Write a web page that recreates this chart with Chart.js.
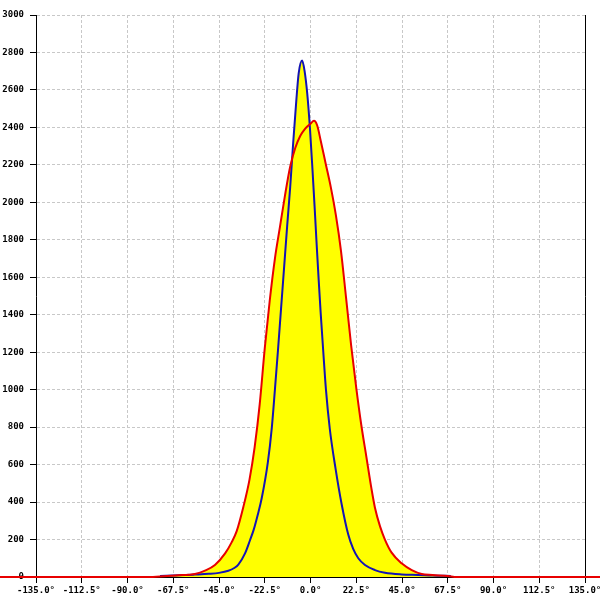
<!DOCTYPE html>
<html>
<head>
<meta charset="utf-8">
<script src="https://cdn.jsdelivr.net/npm/chart.js@4"></script>
<style>
  body { margin: 0; background: #fff; }
  canvas { display: block; }
</style>
</head>
<body>
<canvas id="chart" width="600" height="600"></canvas>
<script>
// red curve (wide distribution)
const redAngles = [-160, -80, -72, -65, -60, -56.8, -51.9, -47, -42, -38.8, -36.3, -33, -30, -27.5, -25, -22.5, -20, -17.5, -15, -12.5, -10, -7.5, -5, -2.5, 0, 1.7, 3.3, 5, 7.5, 10, 12.5, 15, 17.5, 20, 22.5, 25, 27.5, 30, 31.7, 34.2, 36.6, 39.9, 44.8, 49.8, 54.7, 60, 67.6, 72, 160];
const redCounts = [0, 0, 4, 9, 12, 16, 34, 64, 126, 185, 245, 375, 520, 690, 920, 1220, 1480, 1700, 1870, 2040, 2190, 2290, 2355, 2395, 2420, 2435, 2410, 2330, 2205, 2080, 1930, 1740, 1490, 1235, 1010, 810, 640, 470, 370, 270, 200, 130, 73, 37, 16, 11, 5, 0, 0];

// blue curve (narrow distribution)
const blueAngles = [-74, -65, -57, -50, -45, -40.4, -37.5, -35.5, -32.2, -29.8, -28, -26, -24, -21, -19, -17.5, -16, -14.5, -13, -11.5, -10, -8.5, -7, -5.8, -4.1, -2.9, -1.6, -0.3, 1, 2, 3, 4, 5, 6.3, 7.6, 9.5, 12.3, 15.3, 18.6, 21, 23.5, 26.8, 31.7, 36.6, 44.8, 53, 60, 69];
const blueCounts = [6, 9, 13, 17, 22, 33, 48, 66, 126, 195, 250, 330, 420, 610, 800, 1000, 1210, 1430, 1650, 1870, 2080, 2320, 2540, 2690, 2757, 2700, 2580, 2400, 2170, 1980, 1780, 1590, 1410, 1200, 1000, 790, 580, 390, 225, 150, 100, 64, 37, 23, 14, 11, 8, 6];

const xMin = -135, xMax = 135, xStep = 22.5;
const yMin = 0, yMax = 3000, yStep = 200;

const pts = (xs, ys) => xs.map((x, i) => ({ x: x, y: ys[i] }));
const tickFont = { family: 'DejaVu Sans Mono', size: 9, weight: 'bold' };

new Chart(document.getElementById('chart'), {
    type: 'line',
    data: {
        datasets: [
            { data: pts(redAngles, redCounts), borderColor: '#e80000', borderWidth: 2, backgroundColor: '#ffff00',
              fill: 'origin', pointRadius: 0, cubicInterpolationMode: 'monotone', clip: false, order: 0 },
            { data: pts(blueAngles, blueCounts), borderColor: '#1414b4', borderWidth: 2, backgroundColor: '#ffff00',
              fill: 'origin', pointRadius: 0, cubicInterpolationMode: 'monotone', order: 1 }
        ]
    },
    options: {
        responsive: false,
        animation: false,
        layout: { padding: { top: 15, left: 0, right: 0, bottom: 0 } },
        plugins: { legend: { display: false }, tooltip: { enabled: false }, filler: { drawTime: 'beforeDatasetsDraw' } },
        scales: {
            x: {
                type: 'linear', min: xMin, max: xMax,
                ticks: { stepSize: xStep, color: '#000', font: tickFont, padding: 2, maxRotation: 0, autoSkip: false,
                         callback: v => v.toFixed(1) + '°' },
                grid: { color: '#c8c8c8', tickColor: '#000', tickLength: 6 },
                border: { color: '#000', width: 1, dash: [3, 2] },
                afterFit: s => { s.height = 23; s.paddingLeft = 0; s.paddingRight = 0; }
            },
            y: {
                min: yMin, max: yMax,
                ticks: { stepSize: yStep, color: '#000', font: tickFont, padding: 6, callback: v => String(v) },
                grid: { color: '#c8c8c8', tickColor: '#000', tickLength: 6 },
                border: { color: '#000', width: 1, dash: [3, 2] },
                afterFit: s => { s.width = 36; s.paddingTop = 0; s.paddingBottom = 0; }
            },
            y2: {
                position: 'right', min: yMin, max: yMax,
                ticks: { display: false },
                grid: { display: false, drawTicks: false },
                border: { color: '#000', width: 1 },
                afterFit: s => { s.width = 15; }
            }
        }
    }
});
</script>
</body>
</html>
